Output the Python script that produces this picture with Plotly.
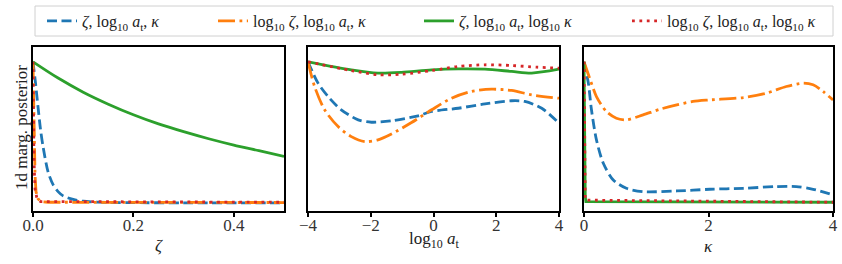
import plotly.graph_objects as go

W, H = 842, 264

# ---------------- data ----------------
series_names = [
    "<i>ζ</i>, log<sub>10</sub> <i>a</i><sub>t</sub>, <i>κ</i>",
    "log<sub>10</sub> <i>ζ</i>, log<sub>10</sub> <i>a</i><sub>t</sub>, <i>κ</i>",
    "<i>ζ</i>, log<sub>10</sub> <i>a</i><sub>t</sub>, log<sub>10</sub> <i>κ</i>",
    "log<sub>10</sub> <i>ζ</i>, log<sub>10</sub> <i>a</i><sub>t</sub>, log<sub>10</sub> <i>κ</i>",
]
colors = ["#1f77b4", "#ff7f0e", "#2ca02c", "#d62728"]

# panel 1 : zeta
zeta_blue_x = [0, 0.005, 0.01, 0.015, 0.02, 0.03, 0.04, 0.05, 0.06, 0.08, 0.1, 0.15, 0.2, 0.3, 0.5]
zeta_blue_y = [1.0, 0.85, 0.68, 0.52, 0.40, 0.22, 0.13, 0.08, 0.05, 0.025, 0.012, 0.004, 0.002, 0.001, 0.0]
zeta_orange_x = [0, 0.002, 0.004, 0.006, 0.01, 0.015, 0.03, 0.5]
zeta_orange_y = [1.0, 0.5, 0.2, 0.08, 0.03, 0.01, 0.005, 0.003]
zeta_green_x = [0, 0.05, 0.1, 0.15, 0.2, 0.25, 0.3, 0.35, 0.4, 0.45, 0.5]
zeta_green_y = [1.0, 0.885, 0.785, 0.70, 0.625, 0.56, 0.505, 0.455, 0.41, 0.37, 0.33]
zeta_red_x = [0, 0.001, 0.002, 0.004, 0.008, 0.015, 0.5]
zeta_red_y = [1.0, 0.6, 0.3, 0.1, 0.03, 0.01, 0.005]

# panel 2 : log10 a_t
at_blue_x = [-4, -3.68, -3.36, -2.94, -2.40, -1.98, -1.34, -0.49, -0.06, 0.79, 1.64, 2.49, 2.91, 3.45, 4]
at_blue_y = [1.0, 0.849, 0.754, 0.66, 0.589, 0.572, 0.582, 0.617, 0.648, 0.671, 0.702, 0.724, 0.719, 0.671, 0.565]
at_orange_x = [-4, -3.79, -3.47, -3.04, -2.62, -2.19, -1.77, -1.34, -0.70, -0.06, 0.57, 1.21, 1.85, 2.49, 3.13, 4]
at_orange_y = [1.0, 0.825, 0.66, 0.541, 0.47, 0.435, 0.447, 0.489, 0.57, 0.66, 0.742, 0.79, 0.806, 0.797, 0.766, 0.742]
at_green_x = [-4, -2.62, -1.77, -1.02, -0.06, 0.79, 1.64, 2.49, 3.13, 4]
at_green_y = [1.0, 0.943, 0.92, 0.925, 0.943, 0.95, 0.948, 0.932, 0.92, 0.948]
at_red_x = [-4, -2.62, -1.77, -1.02, -0.06, 0.79, 1.64, 2.49, 3.30, 4]
at_red_y = [1.0, 0.938, 0.908, 0.912, 0.938, 0.967, 0.979, 0.974, 0.962, 0.955]

# panel 3 : kappa
k_blue_x = [0, 0.07, 0.12, 0.20, 0.31, 0.47, 0.68, 0.95, 1.49, 2.02, 2.56, 3.09, 3.41, 3.68, 4]
k_blue_y = [1.0, 0.849, 0.66, 0.447, 0.281, 0.163, 0.104, 0.08, 0.085, 0.097, 0.104, 0.116, 0.116, 0.097, 0.057]
k_orange_x = [0, 0.10, 0.20, 0.36, 0.52, 0.68, 0.95, 1.22, 1.49, 1.75, 2.02, 2.56, 2.93, 3.25, 3.52, 3.68, 3.84, 4]
k_orange_y = [1.0, 0.872, 0.754, 0.648, 0.60, 0.589, 0.624, 0.664, 0.695, 0.719, 0.73, 0.747, 0.778, 0.825, 0.849, 0.837, 0.79, 0.73]
k_green_x = [0, 0.01, 0.02, 0.03, 4]
k_green_y = [1.0, 0.3, 0.05, 0.01, 0.005]
k_red_x = [0, 0.005, 0.01, 0.02, 4]
k_red_y = [1.0, 0.4, 0.1, 0.02, 0.005]

x_labels = ["<i>ζ</i>", "log<sub>10</sub> <i>a</i><sub>t</sub>", "<i>κ</i>"]
y_label = "1d marg. posterior"

# ---------------- styling ----------------
FONT = "Liberation Serif"
LW = 2.8
dashes = ["10px,4.5px", "17px,4.5px,2.8px,4.5px", "solid", "2.8px,4.6px"]

panels = [
    [(zeta_blue_x, zeta_blue_y, "spline"), (zeta_orange_x, zeta_orange_y, "linear"),
     (zeta_green_x, zeta_green_y, "spline"), (zeta_red_x, zeta_red_y, "linear")],
    [(at_blue_x, at_blue_y, "spline"), (at_orange_x, at_orange_y, "spline"),
     (at_green_x, at_green_y, "spline"), (at_red_x, at_red_y, "spline")],
    [(k_blue_x, k_blue_y, "spline"), (k_orange_x, k_orange_y, "spline"),
     (k_green_x, k_green_y, "linear"), (k_red_x, k_red_y, "linear")],
]

fig = go.Figure()
legend_ids = ["legend", "legend2", "legend3", "legend4"]
for p, traces in enumerate(panels):
    ax = "" if p == 0 else str(p + 1)
    for i, (xs, ys, shp) in enumerate(traces):
        fig.add_trace(go.Scatter(
            x=xs, y=ys, mode="lines",
            line=dict(color=colors[i], width=LW, dash=dashes[i], shape=shp, smoothing=0.8),
            name=series_names[i], legend=legend_ids[i],
            showlegend=(p == 0), hoverinfo="skip",
            xaxis="x" + ax, yaxis="y" + ax,
        ))

def px_x(v):
    return v / W

def px_y(v):
    return 1 - v / H

x_domains = [(33, 284), (308, 559), (584, 833)]
x_ranges = [[0, 0.5], [-4, 4], [0, 4]]
tickvals = [[0, 0.2, 0.4], [-4, -2, 0, 2, 4], [0, 2, 4]]
ticktext = [["0.0", "0.2", "0.4"], ["−4", "−2", "0", "2", "4"], ["0", "2", "4"]]
ydom = [px_y(211), px_y(47)]

layout = dict(
    width=W, height=H, margin=dict(l=0, r=0, t=0, b=0, autoexpand=False),
    paper_bgcolor="white", plot_bgcolor="white",
    font=dict(family=FONT, size=16, color="#222"),
)
for p in range(3):
    ax = "" if p == 0 else str(p + 1)
    layout["xaxis" + ax] = dict(
        domain=[px_x(x_domains[p][0]), px_x(x_domains[p][1])],
        range=x_ranges[p], tickvals=tickvals[p], ticktext=ticktext[p],
        showline=True, linecolor="black", linewidth=2, mirror=True,
        ticks="outside", ticklen=4, tickwidth=1.5, tickcolor="black",
        ticklabelstandoff=-6,
        showgrid=False, zeroline=False, anchor="y" + ax, automargin=False,
        tickfont=dict(family=FONT, size=17, color="#333"),
    )
    layout["yaxis" + ax] = dict(
        domain=ydom, range=[-0.057, 1.105],
        showline=True, linecolor="black", linewidth=2, mirror=True,
        showticklabels=False, ticks="", showgrid=False, zeroline=False,
        anchor="x" + ax, automargin=False,
    )

# legends, one per entry, inside a common frame
legend_text_x = [85, 256, 462, 670]
for i, lid in enumerate(legend_ids):
    layout[lid] = dict(
        x=px_x(legend_text_x[i] - 43), xanchor="left",
        y=px_y(21), yanchor="middle", orientation="h",
        bgcolor="rgba(0,0,0,0)", borderwidth=0,
        font=dict(family=FONT, size=16, color="#222"),
        itemclick=False, itemdoubleclick=False,
    )

x0, x1, y0, y1 = px_x(35), px_x(833), px_y(36), px_y(6)
layout["shapes"] = [dict(
    type="rect", xref="paper", yref="paper",
    x0=x0, x1=x1, y0=y0, y1=y1,
    line=dict(color="#d0d0d0", width=1), fillcolor="white", layer="below",
)]

annotations = []
label_y = [245, 240, 246]
for p in range(3):
    cx = (x_domains[p][0] + x_domains[p][1]) / 2
    annotations.append(dict(
        text=x_labels[p], x=px_x(cx), y=px_y(label_y[p]), xref="paper", yref="paper",
        xanchor="center", yanchor="middle", showarrow=False,
        font=dict(family=FONT, size=17, color="#222"),
    ))
annotations.append(dict(
    text=y_label, x=px_x(21), y=px_y(128), xref="paper", yref="paper",
    xanchor="center", yanchor="middle", showarrow=False, textangle=-90,
    font=dict(family=FONT, size=17, color="#222"),
))
layout["annotations"] = annotations

fig.update_layout(**layout)
fig.write_html("out.html", config={"displayModeBar": False},
               post_script="document.body.style.margin='0';")
